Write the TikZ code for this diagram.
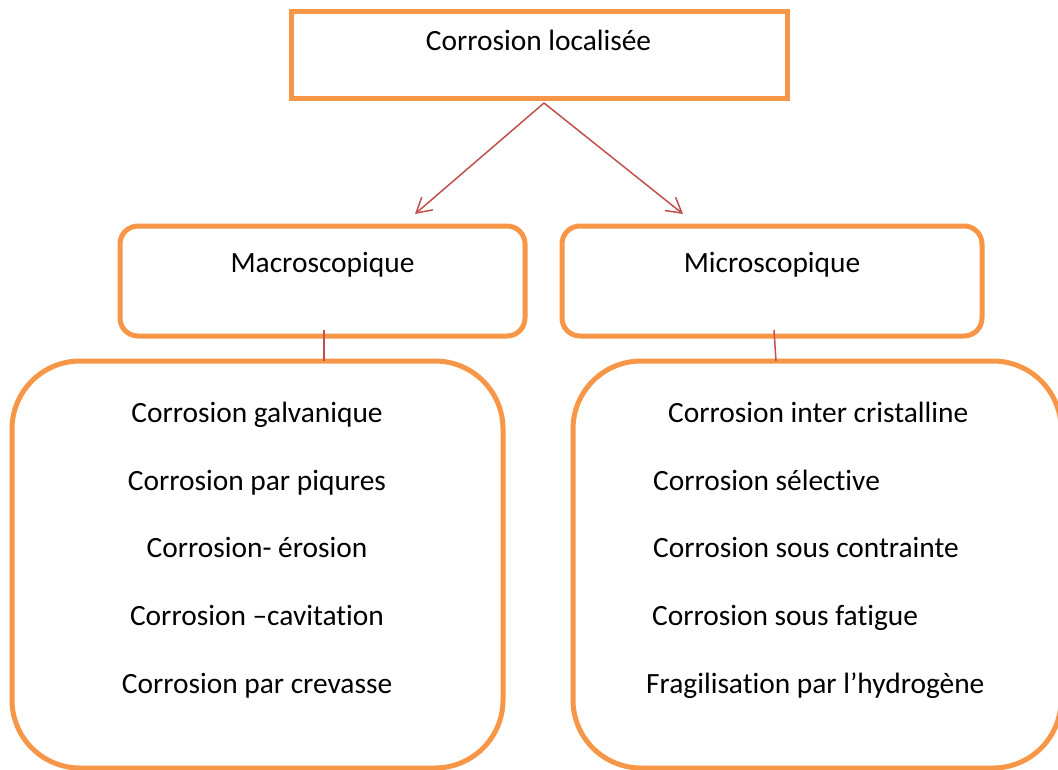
\documentclass[tikz,border=0pt]{standalone}
\usepackage{fontspec}
\setmainfont{Carlito}[RawFeature={-liga}]
\usetikzlibrary{arrows.meta}
\definecolor{boxorange}{HTML}{F79646}
\definecolor{linkred}{HTML}{C0504D}
\begin{document}
\begin{tikzpicture}[x=1pt,y=-1pt,
  box/.style={draw=boxorange,line width=5pt,inner sep=0pt,outer sep=0pt},
  conn/.style={draw=linkred,line width=1.5pt},
  arr/.style={conn,-{Straight Barb[angle=60:17pt,line width=1.5pt]}},
  txt/.style={inner sep=0pt,font=\fontsize{29.4}{34}\selectfont}]
\useasboundingbox (0,0) rectangle (1058,769);
\clip (0,0) rectangle (1058,769);
\fill[white] (0,0) rectangle (1058,769);
% boxes
\node[box,minimum width=496pt,minimum height=87pt] (top) at (539,54.5) {};
\node[box,rounded corners=18pt,minimum width=405pt,minimum height=110pt] (macro) at (322.5,281) {};
\node[box,rounded corners=18pt,minimum width=420pt,minimum height=110pt] (micro) at (772,281) {};
\node[box,rounded corners=68pt,minimum width=491pt,minimum height=407pt] (leftbox) at (257.5,564.5) {};
\node[box,rounded corners=68pt,minimum width=488pt,minimum height=407pt] (rightbox) at (817,564.5) {};
% titles
\node[txt,anchor=base] (ttop) at (538.5,50) {Corrosion localisée};
\node[txt,anchor=base] (tmacro) at (322.5,272) {Macroscopique};
\node[txt,anchor=base] (tmicro) at (772,272) {Microscopique};
% left list
\node[txt,anchor=base] (l1) at (257,422) {Corrosion galvanique};
\node[txt,anchor=base] (l2) at (257,490) {Corrosion par piqures};
\node[txt,anchor=base] (l3) at (257,557) {Corrosion- érosion};
\node[txt,anchor=base] (l4) at (257,625) {Corrosion –cavitation};
\node[txt,anchor=base] (l5) at (257,693) {Corrosion par crevasse};
% right list
\node[txt,anchor=base west] (r1) at (668,422) {Corrosion inter cristalline};
\node[txt,anchor=base west] (r2) at (653,490) {Corrosion sélective};
\node[txt,anchor=base west] (r3) at (653,557) {Corrosion sous contrainte};
\node[txt,anchor=base west] (r4) at (652,625) {Corrosion sous fatigue};
\node[txt,anchor=base west] (r5) at (646,693) {Fragilisation par l’hydrogène};
% connectors
\draw[arr] ([xshift=5pt,yshift=-5pt]top.south) -- ([xshift=92.5pt,yshift=12pt]macro.north);
\draw[arr] ([xshift=5pt,yshift=-5pt]top.south) -- ([xshift=-89pt,yshift=12pt]micro.north);
\draw[conn] ([xshift=1.5pt,yshift=6pt]macro.south) -- ([xshift=66.5pt]leftbox.north);
\draw[conn] ([xshift=2pt,yshift=6pt]micro.south) -- ([xshift=-41pt]rightbox.north);
\end{tikzpicture}
\end{document}
